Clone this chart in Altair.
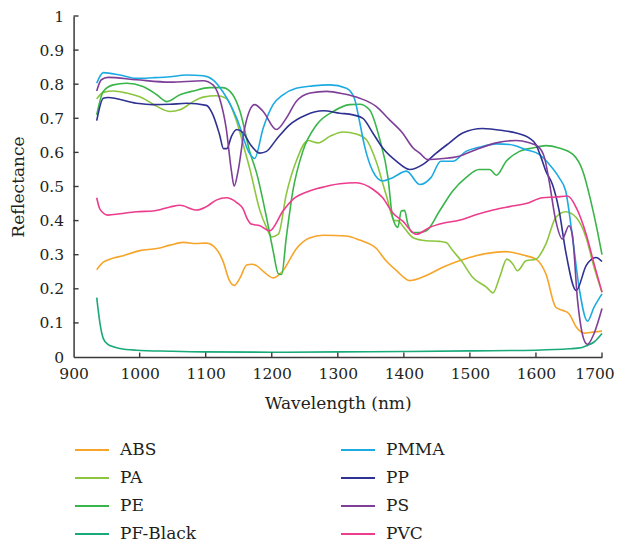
import altair as alt
import pandas as pd

# ---------------- data ----------------
abs_wl = [935, 945, 955, 975, 1000, 1026, 1046, 1066, 1086, 1101, 1116, 1126, 1136, 1143, 1152, 1162, 1170, 1177,
          1189, 1202, 1217, 1237, 1257, 1278, 1313, 1333, 1358, 1373, 1389, 1409, 1434, 1459, 1484, 1509, 1535,
          1555, 1580, 1600, 1615, 1630, 1640, 1650, 1661, 1673, 1686, 1700]
abs_r = [0.256, 0.278, 0.287, 0.297, 0.312, 0.318, 0.328, 0.336, 0.333, 0.334, 0.317, 0.282, 0.224, 0.21, 0.232,
         0.27, 0.272, 0.268, 0.248, 0.232, 0.253, 0.317, 0.349, 0.357, 0.355, 0.343, 0.319, 0.282, 0.253, 0.224,
         0.239, 0.263, 0.282, 0.297, 0.306, 0.309, 0.299, 0.287, 0.244, 0.146, 0.137, 0.127, 0.088, 0.07, 0.073,
         0.076]

pa_wl = [935, 945, 960, 980, 1005, 1026, 1046, 1061, 1081, 1096, 1116, 1131, 1147, 1160, 1167, 1182, 1192, 1200,
         1210, 1222, 1237, 1255, 1270, 1288, 1308, 1328, 1343, 1358, 1373, 1386, 1391, 1398, 1414, 1434, 1454,
         1464, 1474, 1487, 1504, 1525, 1535, 1545, 1556, 1565, 1572, 1585, 1600, 1615, 1630, 1645, 1661, 1676,
         1688, 1700]
pa_r = [0.757, 0.776, 0.78, 0.774, 0.759, 0.735, 0.72, 0.725, 0.749, 0.762, 0.766, 0.759, 0.69, 0.60, 0.55, 0.43,
        0.38, 0.352, 0.36, 0.477, 0.574, 0.635, 0.628, 0.647, 0.66, 0.654, 0.638, 0.574, 0.477, 0.40, 0.40, 0.385,
        0.35, 0.341, 0.339, 0.336, 0.312, 0.282, 0.234, 0.205, 0.188, 0.234, 0.287, 0.273, 0.253, 0.282, 0.287,
        0.331, 0.409, 0.426, 0.409, 0.35, 0.263, 0.19]

pe_wl = [935, 945, 960, 980, 1005, 1026, 1041, 1061, 1081, 1106, 1126, 1141, 1152, 1167, 1177, 1192, 1202, 1210,
         1215, 1222, 1232, 1247, 1268, 1293, 1318, 1333, 1348, 1363, 1376, 1383, 1391, 1396, 1401, 1406, 1413,
         1424, 1434, 1454, 1474, 1494, 1514, 1530, 1540, 1555, 1575, 1595, 1615, 1635, 1656, 1671, 1683, 1693,
         1700]
pe_r = [0.71, 0.779, 0.798, 0.803, 0.793, 0.769, 0.749, 0.769, 0.78, 0.79, 0.79, 0.769, 0.72, 0.60, 0.54, 0.41,
        0.312, 0.244, 0.242, 0.35, 0.487, 0.603, 0.681, 0.72, 0.74, 0.741, 0.725, 0.642, 0.526, 0.409, 0.38, 0.428,
        0.43, 0.39, 0.365, 0.365, 0.37, 0.428, 0.487, 0.526, 0.55, 0.55, 0.533, 0.574, 0.603, 0.613, 0.62, 0.613,
        0.594, 0.545, 0.458, 0.37, 0.30]

pfb_wl = [935, 940, 945, 952, 960, 970, 995, 1046, 1096, 1200, 1300, 1400, 1500, 1600, 1650, 1670, 1678, 1688, 1700]
pfb_r = [0.174, 0.098, 0.054, 0.037, 0.03, 0.025, 0.02, 0.017, 0.015, 0.014, 0.015, 0.016, 0.018, 0.02, 0.024,
         0.028, 0.034, 0.044, 0.069]

pmma_wl = [935, 945, 970, 995, 1020, 1046, 1071, 1096, 1111, 1126, 1147, 1167, 1174, 1187, 1202, 1217, 1237, 1262,
           1288, 1313, 1325, 1333, 1340, 1353, 1368, 1383, 1404, 1424, 1441, 1456, 1474, 1494, 1514, 1540, 1560,
           1585, 1605, 1620, 1635, 1645, 1656, 1666, 1678, 1688, 1700]
pmma_r = [0.803, 0.834, 0.827, 0.817, 0.819, 0.822, 0.827, 0.825, 0.813, 0.778, 0.70, 0.595, 0.582, 0.671, 0.74,
          0.769, 0.788, 0.795, 0.798, 0.788, 0.759, 0.69, 0.623, 0.545, 0.516, 0.526, 0.545, 0.506, 0.526, 0.574,
          0.574, 0.603, 0.615, 0.625, 0.623, 0.608, 0.594, 0.565, 0.526, 0.487, 0.341, 0.195, 0.105, 0.146, 0.185]

pp_wl = [935, 945, 952, 995, 1020, 1046, 1071, 1101, 1111, 1121, 1127, 1132, 1139, 1147, 1157, 1167, 1182, 1192,
         1207, 1227, 1252, 1278, 1303, 1323, 1338, 1353, 1368, 1389, 1409, 1429, 1449, 1469, 1489, 1519, 1550,
         1570, 1590, 1600, 1608, 1615, 1625, 1635, 1645, 1661, 1676, 1691, 1700]
pp_r = [0.693, 0.759, 0.761, 0.744, 0.74, 0.741, 0.744, 0.738, 0.71, 0.652, 0.611, 0.611, 0.647, 0.667, 0.657,
        0.625, 0.598, 0.603, 0.638, 0.681, 0.71, 0.722, 0.715, 0.71, 0.70, 0.657, 0.613, 0.574, 0.55, 0.565, 0.598,
        0.628, 0.657, 0.67, 0.664, 0.657, 0.642, 0.623, 0.584, 0.545, 0.506, 0.43, 0.31, 0.195, 0.268, 0.292, 0.28]

ps_wl = [935, 942, 952, 995, 1046, 1096, 1111, 1121, 1131, 1139, 1143, 1149, 1159, 1167, 1174, 1187, 1207, 1222,
         1237, 1258, 1283, 1308, 1333, 1358, 1378, 1398, 1414, 1424, 1436, 1459, 1484, 1509, 1540, 1570, 1590,
         1603, 1613, 1620, 1630, 1640, 1650, 1655, 1663, 1673, 1678, 1688, 1700]
ps_r = [0.78, 0.813, 0.82, 0.813, 0.806, 0.81, 0.798, 0.759, 0.671, 0.545, 0.501, 0.545, 0.671, 0.725, 0.74, 0.72,
        0.667, 0.70, 0.749, 0.774, 0.779, 0.772, 0.759, 0.735, 0.696, 0.657, 0.613, 0.598, 0.579, 0.582, 0.589,
        0.608, 0.628, 0.635, 0.628, 0.618, 0.584, 0.516, 0.40, 0.346, 0.385, 0.36, 0.166, 0.049, 0.037, 0.069,
        0.142]

pvc_wl = [935, 940, 952, 970, 995, 1020, 1046, 1061, 1086, 1101, 1116, 1131, 1147, 1157, 1162, 1169, 1182, 1197,
          1217, 1232, 1257, 1273, 1303, 1328, 1353, 1368, 1383, 1398, 1419, 1439, 1459, 1484, 1509, 1535, 1560,
          1585, 1610, 1630, 1648, 1661, 1676, 1688, 1700]
pvc_r = [0.467, 0.433, 0.416, 0.42, 0.426, 0.428, 0.44, 0.445, 0.431, 0.441, 0.46, 0.467, 0.453, 0.433, 0.409,
         0.39, 0.385, 0.37, 0.428, 0.462, 0.487, 0.496, 0.508, 0.511, 0.492, 0.467, 0.423, 0.399, 0.36, 0.38, 0.392,
         0.401, 0.417, 0.431, 0.441, 0.45, 0.467, 0.469, 0.472, 0.438, 0.36, 0.273, 0.19]

series = {
    "ABS": (abs_wl, abs_r),
    "PA": (pa_wl, pa_r),
    "PE": (pe_wl, pe_r),
    "PF-Black": (pfb_wl, pfb_r),
    "PMMA": (pmma_wl, pmma_r),
    "PP": (pp_wl, pp_r),
    "PS": (ps_wl, ps_r),
    "PVC": (pvc_wl, pvc_r),
}
materials = ["ABS", "PA", "PE", "PF-Black", "PMMA", "PP", "PS", "PVC"]
colors = ["#F7A428", "#8CC63F", "#39B54A", "#19A97B", "#1CAAE3", "#2E3192", "#7E3F98", "#EC3C8D"]

x_ticks = [900, 1000, 1100, 1200, 1300, 1400, 1500, 1600, 1700]
y_ticks = [0, 0.1, 0.2, 0.3, 0.4, 0.5, 0.6, 0.7, 0.8, 0.9, 1]

rows = []
for name, (wl, r) in series.items():
    for w, v in zip(wl, r):
        rows.append({"Material": name, "Wavelength": w, "Reflectance": v})
df = pd.DataFrame(rows)

FONT = "DejaVu Serif"
AX = "#3A3A3A"
TXT = "#231F20"
FS_LAB = 15.5
FS_TTL = 17
FS_LEG = 17

xscale = alt.Scale(domain=[900, 1700], nice=False, zero=False)
yscale = alt.Scale(domain=[0, 1], nice=False)

x_axis = alt.Axis(values=x_ticks, title="Wavelength (nm)", ticks=False, grid=False,
                  labelPadding=9, titlePadding=14, format="d", labelFlush=False,
                  labelOffset={"condition": {"test": "datum.value == 1700", "value": -7.5}, "value": 0},
                  labelFont=FONT, labelFontSize=FS_LAB, labelColor=TXT,
                  titleFont=FONT, titleFontSize=FS_TTL, titleColor=TXT, titleFontWeight="normal",
                  domainColor=AX, domainWidth=1.5)
y_axis = alt.Axis(values=y_ticks, title="Reflectance", ticks=False, grid=False,
                  labelPadding=10, titlePadding=11, labelFlush=False,
                  labelExpr="datum.value == 0 ? '0' : datum.value == 1 ? '1' : format(datum.value, '.1f')",
                  labelFont=FONT, labelFontSize=FS_LAB, labelColor=TXT,
                  titleFont=FONT, titleFontSize=FS_TTL, titleColor=TXT, titleFontWeight="normal",
                  domainColor=AX, domainWidth=1.5)

lines = alt.Chart(df).mark_line(strokeWidth=1.6, interpolate="monotone").encode(
    x=alt.X("Wavelength:Q", scale=xscale, axis=x_axis, title="Wavelength (nm)"),
    y=alt.Y("Reflectance:Q", scale=yscale, axis=y_axis, title="Reflectance"),
    color=alt.Color("Material:N",
                    scale=alt.Scale(domain=materials, range=colors),
                    legend=alt.Legend(title=None, orient="none", legendX=7.4, legendY=423, columns=2,
                                      symbolType="M-1.7,0H1.7", symbolSize=400, symbolStrokeWidth=2,
                                      labelFont=FONT, labelFontSize=FS_LEG, labelColor=TXT, labelOffset=17,
                                      rowPadding=9, columnPadding=140)),
    detail="Material:N",
    order=alt.Order("Wavelength:Q"),
)

xt = pd.DataFrame({"v": x_ticks[1:]})
yt = pd.DataFrame({"v": y_ticks[1:]})
xtick_rules = alt.Chart(xt).mark_rule(color=AX, strokeWidth=1.4).encode(
    x=alt.X("v:Q", scale=xscale, axis=x_axis, title="Wavelength (nm)"),
    y=alt.Y(datum=0, scale=yscale, axis=y_axis, title="Reflectance"),
    y2=alt.datum(0.013))
ytick_rules = alt.Chart(yt).mark_rule(color=AX, strokeWidth=1.4).encode(
    y=alt.Y("v:Q", scale=yscale, axis=y_axis, title="Reflectance"),
    x=alt.X(datum=900, scale=xscale, axis=x_axis, title="Wavelength (nm)"),
    x2=alt.datum(907.5))

chart = alt.layer(lines, xtick_rules, ytick_rules).properties(
    width=528.4, height=341,
    autosize=alt.AutoSizeParams(type="none"),
    padding={"left": 65.6, "top": 8, "right": 12.5, "bottom": 187},
).configure_view(stroke=None)

chart.save("out.html", embed_options={"renderer": "svg", "actions": False})
